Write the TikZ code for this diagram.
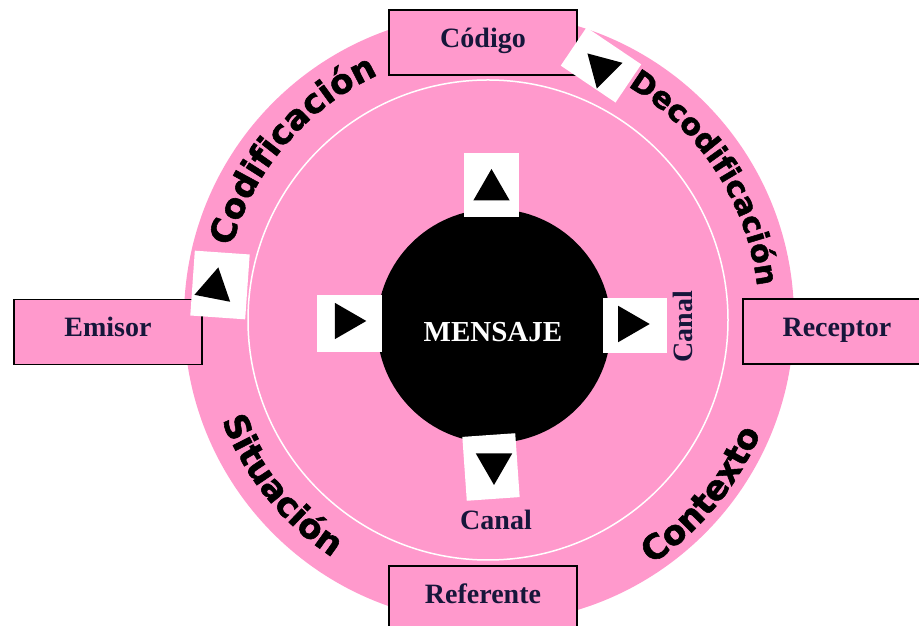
\documentclass[tikz,border=0pt]{standalone}
\usepackage{fontspec}
\setmainfont{Liberation Serif}
\newfontfamily\ringfont[BoldFeatures={FakeBold=1.6}]{DejaVu Sans}
\usepackage{tikz}
\usetikzlibrary{shapes.geometric,decorations.text,calc}
\definecolor{rosa}{RGB}{255,153,204}
\definecolor{tinta}{RGB}{22,22,58}

\begin{document}
\begin{tikzpicture}[x=1pt,y=1pt,
  boxnode/.style={draw=black,line width=1.3pt,fill=rosa,minimum width=188pt,
    minimum height=65pt,inner sep=0pt,text=tinta,text height=18pt,text depth=8pt,
    font=\fontsize{28}{34}\selectfont\bfseries},
  rotulo/.style={text=tinta,inner sep=0pt,font=\fontsize{28}{34}\selectfont\bfseries},
  hueco/.style={rectangle,fill=white,inner sep=0pt},
  flecha/.style={regular polygon,regular polygon sides=3,fill=black,
    minimum size=42pt,inner sep=0pt}
]
\useasboundingbox (0,0) rectangle (919,626);

% the discs
\node[circle,fill=rosa,minimum size=610pt,inner sep=0pt] (disco) at (489,308) {};
\node[circle,draw=white,line width=1.5pt,minimum size=480pt,inner sep=0pt] (anillo) at (488,306) {};
\node[circle,fill=black,minimum size=234pt,inner sep=0pt] (mensaje) at (494,300) {};
\node[text=white,font=\fontsize{29}{34}\selectfont\bfseries] (msg) at (493,294) {MENSAJE};
\coordinate (centro) at (489,308);

% the words on the ring
\path[decorate,decoration={text along path,text align=center,
  text={|\ringfont\bfseries\fontsize{34}{34}\selectfont|Codificación}}]
  ($(centro)+(179.5:267)$) arc[start angle=179.5,end angle=99.5,radius=267];
\path[decorate,decoration={text along path,text align=center,
  text={|\ringfont\bfseries\fontsize{30}{30}\selectfont|Decodificación}}]
  ($(centro)+(72.9:270)$) arc[start angle=72.9,end angle=-7.1,radius=270];
\path[decorate,decoration={text along path,text align=center,
  text={|\ringfont\bfseries\fontsize{34}{34}\selectfont|Situación}}]
  ($(centro)+(178.9:286)$) arc[start angle=178.9,end angle=258.9,radius=286];
\path[decorate,decoration={text along path,text align=center,
  text={|\ringfont\bfseries\fontsize{34}{34}\selectfont|Contexto}}]
  ($(centro)+(280.25:295)$) arc[start angle=280.25,end angle=360.25,radius=295];

% the boxes
\foreach \n/\x/\y/\t in {codigo/483/583.5/Código,emisor/108/294/Emisor,
  receptor/837/294.5/Receptor,referente/483/27.5/Referente}
  \node[boxnode] (\n) at (\x,\y) {\t};

\node[rotulo,rotate=90] (canal1) at (683,299) {Canal};
\node[rotulo] (canal2) at (496,106) {Canal};

% the arrows round the message
\node[hueco,minimum width=55pt,minimum height=64pt] (h1) at (491.5,441) {};
\node[flecha] (f1) at (491.5,436) {};
\node[hueco,minimum width=65pt,minimum height=57pt] (h2) at (349.5,302.5) {};
\node[flecha,rotate=-90] (f2) at (345.3,305) {};
\node[hueco,minimum width=64pt,minimum height=55pt] (h3) at (635,300.5) {};
\node[flecha,rotate=-90] (f3) at (628.7,302) {};
\node[hueco,minimum width=53pt,minimum height=64pt,rotate=4] (h4) at (491,159) {};
\node[flecha,rotate=180] (f4) at (494,162) {};

% the arrows on the ring
\node[hueco,minimum width=55pt,minimum height=65pt,rotate=-4] (h5) at (220,341) {};
\node[flecha,rotate=-11] (f5) at (214.3,338) {};
\node[hueco,minimum width=66pt,minimum height=46pt,rotate=-34] (h6) at (601,561) {};
\node[flecha,rotate=165] (f6) at (602.3,557.7) {};

\end{tikzpicture}
\end{document}
